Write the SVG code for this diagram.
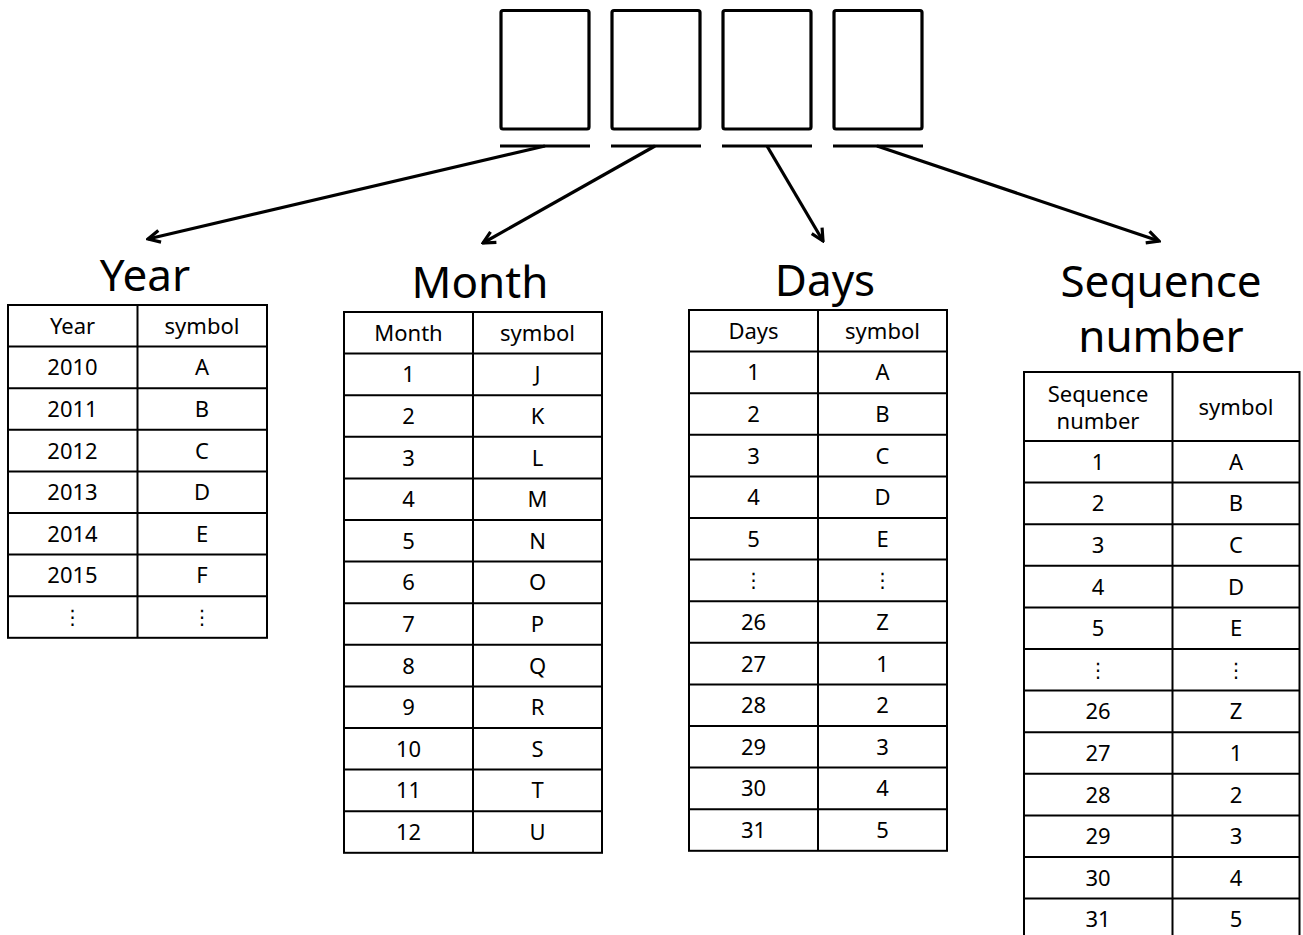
<svg xmlns="http://www.w3.org/2000/svg" width="1303" height="935" viewBox="0 0 1303 935">
<style>
.box{fill:none;stroke:#000;stroke-width:3.2}
.ul{stroke:#000;stroke-width:3.2}
.tb{fill:#fff;stroke:#000;stroke-width:2}
.gl{stroke:#000;stroke-width:2}
.title{font-family:"Noto Sans","Open Sans","DejaVu Sans",sans-serif;font-size:44px;fill:#000;text-anchor:middle}
.c{font-family:"Noto Sans","Open Sans","DejaVu Sans",sans-serif;font-size:22px;fill:#000;text-anchor:middle}
.d{font-family:"DejaVu Sans","Noto Sans",sans-serif;font-size:20px;fill:#000;text-anchor:middle}
.arr{stroke:#000;stroke-width:3.2;fill:none}
</style>
<defs>
<marker id="ah" viewBox="0 0 16 16" markerWidth="16" markerHeight="16" refX="14" refY="8" orient="auto" markerUnits="userSpaceOnUse">
<path d="M2,2 L14,8 L2,14" fill="none" stroke="#000" stroke-width="3.2" stroke-linejoin="miter"/>
</marker>
</defs>
<rect width="1303" height="935" fill="#fff"/>

<g id="code-boxes">
<rect class="box" x="501" y="10.5" width="88" height="118.5" rx="2"/>
<rect class="box" x="612" y="10.5" width="88" height="118.5" rx="2"/>
<rect class="box" x="723" y="10.5" width="88" height="118.5" rx="2"/>
<rect class="box" x="834" y="10.5" width="88" height="118.5" rx="2"/>
<line class="ul" x1="500" y1="146" x2="590" y2="146"/>
<line class="ul" x1="611" y1="146" x2="701" y2="146"/>
<line class="ul" x1="722" y1="146" x2="812" y2="146"/>
<line class="ul" x1="833" y1="146" x2="923" y2="146"/>
</g>

<g id="connectors">
<line class="arr" x1="545" y1="146" x2="148" y2="239" marker-end="url(#ah)"/>
<line class="arr" x1="655" y1="146" x2="483" y2="243" marker-end="url(#ah)"/>
<line class="arr" x1="767" y1="146" x2="823" y2="241" marker-end="url(#ah)"/>
<line class="arr" x1="877" y1="146" x2="1159" y2="241" marker-end="url(#ah)"/>
</g>

<g id="year">
<text class="title" x="145" y="291">Year</text>
<rect class="tb" x="8" y="305" width="259" height="332.8"/>
<line class="gl" x1="137.5" y1="305" x2="137.5" y2="637.8"/>
<line class="gl" x1="8" y1="346.6" x2="267" y2="346.6"/>
<line class="gl" x1="8" y1="388.2" x2="267" y2="388.2"/>
<line class="gl" x1="8" y1="429.8" x2="267" y2="429.8"/>
<line class="gl" x1="8" y1="471.4" x2="267" y2="471.4"/>
<line class="gl" x1="8" y1="513" x2="267" y2="513"/>
<line class="gl" x1="8" y1="554.6" x2="267" y2="554.6"/>
<line class="gl" x1="8" y1="596.2" x2="267" y2="596.2"/>
<text class="c" x="72.5" y="333.8">Year</text><text class="c" x="202" y="333.8">symbol</text>
<text class="c" x="72.5" y="375.4">2010</text><text class="c" x="202" y="375.4">A</text>
<text class="c" x="72.5" y="417">2011</text><text class="c" x="202" y="417">B</text>
<text class="c" x="72.5" y="458.6">2012</text><text class="c" x="202" y="458.6">C</text>
<text class="c" x="72.5" y="500.2">2013</text><text class="c" x="202" y="500.2">D</text>
<text class="c" x="72.5" y="541.8">2014</text><text class="c" x="202" y="541.8">E</text>
<text class="c" x="72.5" y="583.4">2015</text><text class="c" x="202" y="583.4">F</text>
<text class="d" x="72.5" y="624">⋮</text><text class="d" x="202" y="624">⋮</text>
</g>

<g id="month">
<text class="title" x="480" y="298">Month</text>
<rect class="tb" x="344" y="312" width="258" height="540.8"/>
<line class="gl" x1="473" y1="312" x2="473" y2="852.8"/>
<line class="gl" x1="344" y1="353.6" x2="602" y2="353.6"/>
<line class="gl" x1="344" y1="395.2" x2="602" y2="395.2"/>
<line class="gl" x1="344" y1="436.8" x2="602" y2="436.8"/>
<line class="gl" x1="344" y1="478.4" x2="602" y2="478.4"/>
<line class="gl" x1="344" y1="520" x2="602" y2="520"/>
<line class="gl" x1="344" y1="561.6" x2="602" y2="561.6"/>
<line class="gl" x1="344" y1="603.2" x2="602" y2="603.2"/>
<line class="gl" x1="344" y1="644.8" x2="602" y2="644.8"/>
<line class="gl" x1="344" y1="686.4" x2="602" y2="686.4"/>
<line class="gl" x1="344" y1="728" x2="602" y2="728"/>
<line class="gl" x1="344" y1="769.6" x2="602" y2="769.6"/>
<line class="gl" x1="344" y1="811.2" x2="602" y2="811.2"/>
<text class="c" x="408.5" y="340.8">Month</text><text class="c" x="537.5" y="340.8">symbol</text>
<text class="c" x="408.5" y="382.4">1</text><text class="c" x="537.5" y="382.4">J</text>
<text class="c" x="408.5" y="424">2</text><text class="c" x="537.5" y="424">K</text>
<text class="c" x="408.5" y="465.6">3</text><text class="c" x="537.5" y="465.6">L</text>
<text class="c" x="408.5" y="507.2">4</text><text class="c" x="537.5" y="507.2">M</text>
<text class="c" x="408.5" y="548.8">5</text><text class="c" x="537.5" y="548.8">N</text>
<text class="c" x="408.5" y="590.4">6</text><text class="c" x="537.5" y="590.4">O</text>
<text class="c" x="408.5" y="632">7</text><text class="c" x="537.5" y="632">P</text>
<text class="c" x="408.5" y="673.6">8</text><text class="c" x="537.5" y="673.6">Q</text>
<text class="c" x="408.5" y="715.2">9</text><text class="c" x="537.5" y="715.2">R</text>
<text class="c" x="408.5" y="756.8">10</text><text class="c" x="537.5" y="756.8">S</text>
<text class="c" x="408.5" y="798.4">11</text><text class="c" x="537.5" y="798.4">T</text>
<text class="c" x="408.5" y="840">12</text><text class="c" x="537.5" y="840">U</text>
</g>

<g id="days">
<text class="title" x="825" y="296">Days</text>
<rect class="tb" x="689" y="310" width="258" height="540.8"/>
<line class="gl" x1="818" y1="310" x2="818" y2="850.8"/>
<line class="gl" x1="689" y1="351.6" x2="947" y2="351.6"/>
<line class="gl" x1="689" y1="393.2" x2="947" y2="393.2"/>
<line class="gl" x1="689" y1="434.8" x2="947" y2="434.8"/>
<line class="gl" x1="689" y1="476.4" x2="947" y2="476.4"/>
<line class="gl" x1="689" y1="518" x2="947" y2="518"/>
<line class="gl" x1="689" y1="559.6" x2="947" y2="559.6"/>
<line class="gl" x1="689" y1="601.2" x2="947" y2="601.2"/>
<line class="gl" x1="689" y1="642.8" x2="947" y2="642.8"/>
<line class="gl" x1="689" y1="684.4" x2="947" y2="684.4"/>
<line class="gl" x1="689" y1="726" x2="947" y2="726"/>
<line class="gl" x1="689" y1="767.6" x2="947" y2="767.6"/>
<line class="gl" x1="689" y1="809.2" x2="947" y2="809.2"/>
<text class="c" x="753.5" y="338.8">Days</text><text class="c" x="882.5" y="338.8">symbol</text>
<text class="c" x="753.5" y="380.4">1</text><text class="c" x="882.5" y="380.4">A</text>
<text class="c" x="753.5" y="422">2</text><text class="c" x="882.5" y="422">B</text>
<text class="c" x="753.5" y="463.6">3</text><text class="c" x="882.5" y="463.6">C</text>
<text class="c" x="753.5" y="505.2">4</text><text class="c" x="882.5" y="505.2">D</text>
<text class="c" x="753.5" y="546.8">5</text><text class="c" x="882.5" y="546.8">E</text>
<text class="d" x="753.5" y="587.4">⋮</text><text class="d" x="882.5" y="587.4">⋮</text>
<text class="c" x="753.5" y="630">26</text><text class="c" x="882.5" y="630">Z</text>
<text class="c" x="753.5" y="671.6">27</text><text class="c" x="882.5" y="671.6">1</text>
<text class="c" x="753.5" y="713.2">28</text><text class="c" x="882.5" y="713.2">2</text>
<text class="c" x="753.5" y="754.8">29</text><text class="c" x="882.5" y="754.8">3</text>
<text class="c" x="753.5" y="796.4">30</text><text class="c" x="882.5" y="796.4">4</text>
<text class="c" x="753.5" y="838">31</text><text class="c" x="882.5" y="838">5</text>
</g>

<g id="sequence">
<text class="title" x="1161" y="297">Sequence</text>
<text class="title" x="1161" y="352">number</text>
<rect class="tb" x="1024" y="372" width="275.5" height="568.2"/>
<line class="gl" x1="1172.5" y1="372" x2="1172.5" y2="940.2"/>
<line class="gl" x1="1024" y1="441" x2="1299.5" y2="441"/>
<line class="gl" x1="1024" y1="482.6" x2="1299.5" y2="482.6"/>
<line class="gl" x1="1024" y1="524.2" x2="1299.5" y2="524.2"/>
<line class="gl" x1="1024" y1="565.8" x2="1299.5" y2="565.8"/>
<line class="gl" x1="1024" y1="607.4" x2="1299.5" y2="607.4"/>
<line class="gl" x1="1024" y1="649" x2="1299.5" y2="649"/>
<line class="gl" x1="1024" y1="690.6" x2="1299.5" y2="690.6"/>
<line class="gl" x1="1024" y1="732.2" x2="1299.5" y2="732.2"/>
<line class="gl" x1="1024" y1="773.8" x2="1299.5" y2="773.8"/>
<line class="gl" x1="1024" y1="815.4" x2="1299.5" y2="815.4"/>
<line class="gl" x1="1024" y1="857" x2="1299.5" y2="857"/>
<line class="gl" x1="1024" y1="898.6" x2="1299.5" y2="898.6"/>
<text class="c" x="1098" y="401.5">Sequence</text>
<text class="c" x="1098" y="429">number</text>
<text class="c" x="1236" y="415">symbol</text>
<text class="c" x="1098" y="469.8">1</text><text class="c" x="1236" y="469.8">A</text>
<text class="c" x="1098" y="511.4">2</text><text class="c" x="1236" y="511.4">B</text>
<text class="c" x="1098" y="553">3</text><text class="c" x="1236" y="553">C</text>
<text class="c" x="1098" y="594.6">4</text><text class="c" x="1236" y="594.6">D</text>
<text class="c" x="1098" y="636.2">5</text><text class="c" x="1236" y="636.2">E</text>
<text class="d" x="1098" y="676.8">⋮</text><text class="d" x="1236" y="676.8">⋮</text>
<text class="c" x="1098" y="719.4">26</text><text class="c" x="1236" y="719.4">Z</text>
<text class="c" x="1098" y="761">27</text><text class="c" x="1236" y="761">1</text>
<text class="c" x="1098" y="802.6">28</text><text class="c" x="1236" y="802.6">2</text>
<text class="c" x="1098" y="844.2">29</text><text class="c" x="1236" y="844.2">3</text>
<text class="c" x="1098" y="885.8">30</text><text class="c" x="1236" y="885.8">4</text>
<text class="c" x="1098" y="927.4">31</text><text class="c" x="1236" y="927.4">5</text>
</g>
</svg>
